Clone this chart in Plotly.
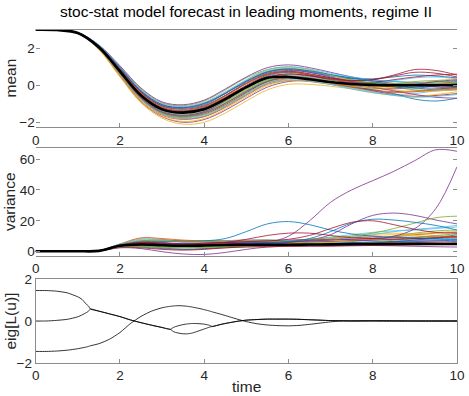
import plotly.graph_objects as go

# time grid used by the ensemble curves
T = [0.0, 0.5, 1.0, 1.5, 2.0, 2.5, 3.0, 3.5, 4.0, 4.5, 5.0,
     5.5, 6.0, 6.5, 7.0, 7.5, 8.0, 8.5, 9.0, 9.5, 10.0]

MEAN_AVG = [3.0, 2.98, 2.82, 2.05, 0.75, -0.55, -1.3, -1.48, -1.3, -0.75, -0.1,
            0.4, 0.45, 0.32, 0.18, 0.07, 0.02, 0.0, 0.0, 0.0, 0.0]

MEAN_MEMBERS = [
    [3.0, 2.98, 2.83, 2.12, 0.92, -0.35, -1.10, -1.25, -1.05, -0.45, 0.25, 0.75, 0.90, 0.75, 0.55, 0.40, 0.30, 0.20, 0.15, 0.18, 0.25],
    [3.0, 2.98, 2.81, 1.98, 0.58, -0.78, -1.55, -1.80, -1.70, -1.20, -0.55, 0.05, 0.25, 0.20, 0.05, -0.10, -0.25, -0.35, -0.30, -0.20, -0.15],
    [3.0, 2.98, 2.82, 2.08, 0.82, -0.45, -1.22, -1.42, -1.20, -0.60, 0.10, 0.62, 0.78, 0.60, 0.35, 0.10, -0.05, -0.05, 0.05, 0.15, 0.10],
    [3.0, 2.98, 2.80, 1.95, 0.50, -0.90, -1.70, -2.00, -1.85, -1.35, -0.70, -0.10, 0.20, 0.25, 0.15, 0.00, -0.15, -0.20, -0.10, 0.05, 0.20],
    [3.0, 2.98, 2.84, 2.15, 1.00, -0.20, -0.95, -1.10, -0.85, -0.25, 0.40, 0.85, 1.00, 0.85, 0.55, 0.30, 0.10, 0.00, -0.05, 0.00, 0.10],
    [3.0, 2.98, 2.82, 2.02, 0.70, -0.62, -1.38, -1.60, -1.45, -0.95, -0.30, 0.25, 0.50, 0.45, 0.30, 0.20, 0.15, 0.25, 0.40, 0.45, 0.35],
    [3.0, 2.98, 2.81, 2.00, 0.65, -0.70, -1.48, -1.70, -1.55, -1.05, -0.40, 0.20, 0.45, 0.40, 0.20, -0.05, -0.30, -0.50, -0.60, -0.55, -0.45],
    [3.0, 2.98, 2.83, 2.10, 0.85, -0.40, -1.18, -1.38, -1.15, -0.55, 0.15, 0.65, 0.80, 0.70, 0.50, 0.35, 0.35, 0.45, 0.55, 0.50, 0.40],
    [3.0, 2.98, 2.82, 2.05, 0.75, -0.55, -1.30, -1.48, -1.30, -0.80, -0.15, 0.35, 0.50, 0.35, 0.10, -0.10, -0.20, -0.15, 0.00, 0.10, 0.05],
    [3.0, 2.98, 2.80, 1.92, 0.45, -0.95, -1.78, -2.10, -2.00, -1.50, -0.85, -0.25, 0.05, 0.05, -0.05, -0.20, -0.40, -0.55, -0.60, -0.50, -0.35],
    [3.0, 2.98, 2.84, 2.18, 1.05, -0.15, -0.90, -1.05, -0.80, -0.20, 0.45, 0.95, 1.10, 0.95, 0.70, 0.45, 0.25, 0.10, 0.00, -0.10, -0.15],
    [3.0, 2.98, 2.82, 2.04, 0.72, -0.58, -1.35, -1.55, -1.40, -0.90, -0.25, 0.30, 0.55, 0.50, 0.40, 0.30, 0.10, -0.10, -0.25, -0.30, -0.25],
    [3.0, 2.98, 2.81, 1.99, 0.62, -0.72, -1.50, -1.72, -1.52, -0.98, -0.30, 0.25, 0.45, 0.30, 0.05, -0.20, -0.40, -0.50, -0.45, -0.30, -0.20],
    [3.0, 2.98, 2.83, 2.11, 0.88, -0.38, -1.12, -1.30, -1.10, -0.55, 0.10, 0.60, 0.72, 0.55, 0.30, 0.15, 0.15, 0.30, 0.45, 0.55, 0.60],
    [3.0, 2.98, 2.82, 2.06, 0.78, -0.50, -1.25, -1.45, -1.25, -0.70, -0.05, 0.50, 0.70, 0.60, 0.40, 0.20, 0.05, -0.10, -0.15, -0.05, 0.10],
    [3.0, 2.98, 2.80, 1.96, 0.55, -0.85, -1.62, -1.85, -1.68, -1.15, -0.50, 0.10, 0.35, 0.30, 0.15, 0.05, 0.00, 0.05, 0.10, 0.05, -0.05],
    [3.0, 2.98, 2.83, 2.13, 0.95, -0.28, -1.02, -1.18, -0.95, -0.40, 0.25, 0.75, 0.92, 0.80, 0.55, 0.25, -0.05, -0.25, -0.35, -0.30, -0.25],
    [3.0, 2.98, 2.82, 2.03, 0.68, -0.65, -1.42, -1.62, -1.42, -0.85, -0.15, 0.40, 0.60, 0.50, 0.30, 0.10, -0.10, -0.30, -0.50, -0.65, -0.70],
    [3.0, 2.98, 2.81, 1.97, 0.60, -0.75, -1.52, -1.75, -1.60, -1.10, -0.45, 0.15, 0.40, 0.38, 0.28, 0.20, 0.15, 0.10, 0.05, 0.10, 0.15],
    [3.0, 2.98, 2.84, 2.16, 0.98, -0.25, -0.98, -1.15, -0.92, -0.35, 0.30, 0.82, 0.98, 0.88, 0.65, 0.45, 0.30, 0.20, 0.15, 0.10, 0.00],
    [3.0, 2.98, 2.82, 2.07, 0.80, -0.48, -1.22, -1.40, -1.20, -0.65, 0.00, 0.55, 0.75, 0.62, 0.40, 0.25, 0.30, 0.50, 0.70, 0.65, 0.45],
    [3.0, 2.98, 2.81, 2.01, 0.66, -0.68, -1.45, -1.65, -1.48, -0.98, -0.35, 0.20, 0.42, 0.35, 0.15, -0.05, -0.25, -0.45, -0.75, -0.85, -0.70],
    [3.0, 2.98, 2.83, 2.09, 0.84, -0.42, -1.18, -1.35, -1.12, -0.58, 0.08, 0.58, 0.72, 0.58, 0.35, 0.15, 0.00, -0.05, 0.00, 0.00, -0.10],
    [3.0, 2.98, 2.80, 1.94, 0.52, -0.88, -1.68, -1.95, -1.80, -1.28, -0.62, -0.02, 0.25, 0.22, 0.10, -0.05, -0.15, -0.10, 0.05, 0.25, 0.35],
    [3.0, 2.98, 2.83, 2.12, 0.90, -0.32, -1.05, -1.20, -0.98, -0.45, 0.20, 0.70, 0.85, 0.70, 0.45, 0.20, 0.05, 0.00, 0.05, 0.20, 0.30],
    [3.0, 2.98, 2.82, 2.04, 0.74, -0.56, -1.32, -1.52, -1.35, -0.85, -0.20, 0.32, 0.48, 0.35, 0.15, 0.00, -0.05, 0.05, 0.20, 0.25, 0.15],
    [3.0, 2.98, 2.81, 1.98, 0.60, -0.76, -1.56, -1.80, -1.65, -1.15, -0.50, 0.08, 0.30, 0.22, 0.05, -0.15, -0.35, -0.55, -0.65, -0.60, -0.50],
    [3.0, 2.98, 2.82, 2.06, 0.77, -0.52, -1.28, -1.46, -1.26, -0.72, -0.08, 0.45, 0.62, 0.52, 0.35, 0.25, 0.30, 0.55, 0.85, 0.80, 0.55],
    [3.0, 2.98, 2.84, 2.14, 0.96, -0.30, -1.05, -1.22, -1.00, -0.42, 0.22, 0.72, 0.88, 0.78, 0.58, 0.38, 0.20, 0.00, -0.15, -0.20, -0.10],
    [3.0, 2.98, 2.81, 2.00, 0.64, -0.70, -1.46, -1.66, -1.50, -0.98, -0.32, 0.22, 0.42, 0.32, 0.12, -0.10, -0.30, -0.40, -0.35, -0.25, -0.20],
]

VAR_AVG = [0.3, 0.3, 0.3, 0.5, 3.8, 4.6, 4.2, 3.8, 4.0, 4.3, 4.5,
           4.5, 4.5, 4.6, 4.7, 4.9, 5.0, 5.0, 5.0, 5.0, 5.0]

VAR_MEMBERS = [
    [0.3, 0.3, 0.3, 0.6, 4.2, 6.5, 6.0, 5.0, 5.5, 6.0, 6.2, 6.0, 5.8, 6.0, 6.5, 7.0, 7.5, 8.0, 8.2, 8.0, 7.5],
    [0.3, 0.3, 0.3, 0.5, 3.0, 3.5, 2.5, 1.5, 1.8, 2.5, 3.2, 3.5, 3.8, 4.0, 4.2, 4.5, 5.0, 5.5, 6.0, 6.2, 6.0],
    [0.3, 0.3, 0.3, 0.7, 4.8, 8.5, 8.0, 6.5, 6.0, 6.5, 7.0, 7.2, 7.0, 7.5, 8.5, 10.0, 11.5, 12.0, 11.5, 10.5, 10.0],
    [0.3, 0.3, 0.3, 0.4, 2.5, 2.0, 0.0, -1.5, -1.8, -0.5, 1.5, 3.0, 3.5, 3.8, 4.0, 4.2, 4.0, 3.8, 3.5, 3.2, 3.0],
    [0.3, 0.3, 0.3, 0.6, 4.0, 5.5, 5.0, 4.5, 5.0, 6.0, 7.0, 7.5, 7.0, 6.5, 6.0, 6.5, 8.0, 10.0, 12.0, 13.5, 14.0],
    [0.3, 0.3, 0.3, 0.5, 3.5, 4.0, 3.0, 2.5, 3.0, 3.5, 4.0, 4.0, 4.2, 4.8, 5.5, 6.0, 6.5, 7.0, 7.5, 8.0, 8.5],
    [0.3, 0.3, 0.3, 0.6, 4.5, 7.0, 7.5, 7.0, 6.5, 6.0, 5.5, 5.5, 6.0, 7.0, 8.0, 9.0, 9.5, 9.0, 8.5, 9.0, 10.0],
    [0.3, 0.3, 0.3, 0.5, 3.2, 3.0, 2.0, 1.5, 2.0, 3.0, 3.5, 3.8, 4.0, 4.0, 4.0, 4.5, 5.5, 6.5, 7.0, 7.0, 6.5],
    [0.3, 0.3, 0.3, 0.7, 5.0, 9.0, 8.5, 7.5, 7.0, 7.0, 6.8, 6.5, 6.5, 7.0, 7.5, 8.0, 8.5, 9.5, 11.0, 12.0, 12.5],
    [0.3, 0.3, 0.3, 0.5, 3.8, 5.0, 4.5, 4.0, 4.2, 4.5, 4.8, 5.0, 5.5, 6.5, 8.0, 9.5, 10.5, 11.0, 10.5, 9.5, 9.0],
    [0.3, 0.3, 0.3, 0.6, 4.2, 6.0, 5.5, 5.0, 5.0, 5.2, 5.5, 5.5, 5.2, 5.0, 5.0, 5.2, 5.5, 6.0, 6.5, 7.0, 7.5],
    [0.3, 0.3, 0.3, 0.5, 3.3, 3.8, 3.5, 3.0, 3.0, 3.2, 3.5, 3.6, 3.8, 4.0, 4.5, 5.0, 5.5, 5.8, 6.0, 5.5, 5.0],
    [0.3, 0.3, 0.3, 0.6, 4.6, 7.5, 7.0, 6.0, 5.5, 5.0, 5.0, 5.5, 6.5, 8.0, 9.5, 11.0, 12.5, 13.5, 14.0, 15.0, 16.0],
    [0.3, 0.3, 0.3, 0.4, 2.8, 2.5, 1.5, 1.0, 1.5, 2.5, 3.0, 3.2, 3.5, 3.5, 3.5, 3.8, 4.0, 4.2, 4.5, 4.8, 5.0],
    [0.3, 0.3, 0.3, 0.5, 3.6, 4.8, 4.2, 3.5, 3.8, 4.5, 5.5, 6.5, 7.0, 7.0, 6.5, 6.0, 6.0, 6.5, 7.5, 9.0, 11.0],
    [0.3, 0.3, 0.3, 0.6, 4.4, 6.2, 6.5, 6.8, 7.0, 7.2, 7.5, 7.5, 7.0, 6.5, 6.5, 7.0, 8.0, 9.0, 9.5, 10.0, 9.5],
    [0.3, 0.3, 0.3, 0.5, 3.4, 4.2, 3.8, 3.2, 3.5, 4.0, 4.5, 4.8, 5.0, 5.5, 6.0, 7.0, 8.5, 10.0, 11.5, 12.5, 13.0],
    [0.3, 0.3, 0.3, 0.6, 4.0, 5.8, 5.5, 5.2, 5.5, 6.0, 6.5, 7.0, 7.5, 8.0, 8.0, 7.5, 7.0, 6.5, 6.0, 5.5, 5.0],
    [0.3, 0.3, 0.3, 0.5, 3.1, 3.2, 2.8, 2.5, 2.8, 3.2, 3.8, 4.2, 4.5, 4.5, 4.5, 5.0, 6.0, 7.5, 9.0, 10.5, 11.5],
    [0.3, 0.3, 0.3, 0.7, 4.9, 8.0, 7.5, 6.5, 6.5, 7.0, 7.5, 7.5, 7.2, 7.0, 7.5, 9.0, 11.0, 13.0, 14.5, 15.5, 17.0],
    # members that wander far from the band
    [0.3, 0.3, 0.3, 0.5, 3.5, 4.5, 4.0, 3.5, 3.8, 4.5, 5.0, 6.0, 10.0, 20.0, 32.0, 40.0, 46.0, 52.0, 59.0, 66.0, 65.0],
    [0.3, 0.3, 0.3, 0.6, 4.0, 5.0, 4.5, 4.0, 4.5, 5.0, 5.5, 6.0, 6.5, 7.0, 7.5, 8.0, 8.5, 10.0, 15.0, 28.0, 55.0],
    [0.3, 0.3, 0.3, 0.6, 4.2, 6.0, 6.5, 6.5, 7.0, 8.5, 13.0, 18.0, 19.5, 17.5, 14.0, 11.5, 10.0, 9.5, 9.0, 8.5, 8.0],
    [0.3, 0.3, 0.3, 0.5, 3.8, 5.0, 4.5, 4.0, 4.5, 5.0, 5.5, 5.5, 6.0, 7.5, 11.0, 18.0, 23.5, 25.0, 23.5, 20.5, 18.0],
    [0.3, 0.3, 0.3, 0.6, 4.5, 7.0, 7.0, 6.5, 6.5, 6.5, 6.5, 6.5, 7.0, 8.0, 9.0, 10.0, 12.0, 15.0, 18.5, 22.0, 23.0],
    [0.3, 0.3, 0.3, 0.5, 3.6, 4.5, 4.0, 3.8, 4.0, 4.5, 5.0, 5.5, 6.5, 8.5, 13.0, 18.5, 21.0, 20.5, 19.0, 17.0, 14.0],
    [0.3, 0.3, 0.3, 0.6, 4.3, 6.0, 5.5, 5.0, 5.5, 6.0, 6.5, 7.0, 8.0, 10.5, 15.0, 19.0, 20.0, 17.5, 14.5, 12.5, 12.0],
    [0.3, 0.3, 0.3, 0.5, 3.9, 5.5, 5.0, 4.5, 5.0, 6.0, 8.0, 10.5, 12.0, 12.0, 10.5, 9.0, 8.5, 8.0, 8.5, 9.0, 9.5],
]

EIG_T = [0.0, 0.25, 0.5, 0.75, 1.0, 1.1, 1.2, 1.25, 1.3, 1.5, 1.75, 2.0, 2.25, 2.5,
         2.75, 3.0, 3.1, 3.2, 3.25, 3.3, 3.4, 3.5, 3.6, 3.7, 3.8, 3.9, 4.0, 4.1,
         4.15, 4.2, 4.4, 4.6, 4.8, 5.0, 5.25, 5.5, 5.75, 6.0, 6.25, 6.5, 6.75,
         7.0, 7.25, 7.5, 8.0, 8.5, 9.0, 9.5, 10.0]

EIG_1 = [1.45, 1.45, 1.42, 1.34, 1.15, 1.03, 0.80, 0.72, 0.57, 0.47, 0.34, 0.21, 0.05, -0.08,
         -0.20, -0.31, -0.36, -0.40, -0.33, -0.28, -0.22, -0.17, -0.14, -0.12, -0.12, -0.13, -0.15, -0.19,
         -0.23, -0.26, -0.16, -0.08, -0.01, 0.04, 0.07, 0.09, 0.09, 0.09, 0.08, 0.06, 0.04,
         0.02, 0.01, 0.0, 0.01, 0.01, 0.0, 0.0, 0.0]

EIG_2 = [0.0, 0.0, 0.03, 0.08, 0.20, 0.29, 0.40, 0.46, 0.57, 0.47, 0.34, 0.21, 0.05, -0.08,
         -0.20, -0.31, -0.36, -0.40, -0.48, -0.53, -0.58, -0.61, -0.61, -0.58, -0.52, -0.45, -0.38, -0.31,
         -0.28, -0.26, -0.16, -0.08, -0.01, 0.04, 0.07, 0.09, 0.09, 0.09, 0.08, 0.06, 0.04,
         0.02, 0.01, 0.0, 0.01, 0.01, 0.0, 0.0, 0.0]

EIG_3 = [-1.45, -1.45, -1.43, -1.39, -1.32, -1.28, -1.24, -1.21, -1.18, -1.08, -0.87, -0.55, -0.12, 0.22,
         0.47, 0.63, 0.67, 0.70, 0.71, 0.72, 0.73, 0.72, 0.70, 0.67, 0.63, 0.59, 0.54, 0.49,
         0.46, 0.43, 0.32, 0.20, 0.08, -0.03, -0.13, -0.19, -0.22, -0.23, -0.21, -0.16, -0.10,
         -0.04, 0.0, 0.01, 0.0, -0.01, 0.0, 0.0, 0.0]

X_TICKS = [0, 2, 4, 6, 8, 10]
PALETTE = ["#0072BD", "#D95319", "#EDB120", "#7E2F8E", "#77AC30", "#4DBEEE", "#A2142F"]
VAR_COLOR_IDX = [i % 7 for i in range(20)] + [3, 3, 0, 3, 4, 0, 6, 6]

W, H = 469, 396
FONT = "Liberation Sans, Arial, Helvetica, sans-serif"
X_DOM = [35.7 / W, 457 / W]


def ydom(top_px, bottom_px):
    return [1 - bottom_px / H, 1 - top_px / H]


fig = go.Figure()

for i, vals in enumerate(MEAN_MEMBERS):
    fig.add_trace(go.Scatter(x=T, y=vals, mode="lines", line=dict(color=PALETTE[i % 7], width=0.8, shape="spline"),
                             xaxis="x", yaxis="y", hoverinfo="skip", showlegend=False))
fig.add_trace(go.Scatter(x=T, y=MEAN_AVG, mode="lines", line=dict(color="black", width=2.6, shape="spline"),
                         xaxis="x", yaxis="y", showlegend=False))

for i, vals in enumerate(VAR_MEMBERS):
    fig.add_trace(go.Scatter(x=T, y=vals, mode="lines",
                             line=dict(color=PALETTE[VAR_COLOR_IDX[i]], width=0.8, shape="spline"),
                             xaxis="x2", yaxis="y2", hoverinfo="skip", showlegend=False))
fig.add_trace(go.Scatter(x=T, y=VAR_AVG, mode="lines", line=dict(color="black", width=2.6, shape="spline"),
                         xaxis="x2", yaxis="y2", showlegend=False))

for vals in (EIG_1, EIG_2, EIG_3):
    fig.add_trace(go.Scatter(x=EIG_T, y=vals, mode="lines", line=dict(color="black", width=0.8, shape="spline", smoothing=0.6),
                             xaxis="x3", yaxis="y3", showlegend=False))

tick_font = dict(family=FONT, size=13.5, color="#262626")
axis_common = dict(showgrid=False, zeroline=False, ticks="inside", ticklen=4, tickcolor="#8c8c8c",
                   tickfont=tick_font, linecolor="#8c8c8c", linewidth=1)


def xaxis(anchor):
    return dict(axis_common, domain=X_DOM, anchor=anchor, range=[0, 10], tickvals=X_TICKS,
                showline=True, mirror=True)


label_font = dict(family=FONT, size=15.5, color="#262626")

fig.update_layout(
    width=W,
    height=H,
    margin=dict(l=0, r=0, t=0, b=0, autoexpand=False),
    paper_bgcolor="white",
    plot_bgcolor="white",
    xaxis=xaxis("y"),
    yaxis=dict(axis_common, domain=ydom(29.7, 127.3), anchor="x", range=[-2.27, 3.0], tickvals=[-2, 0, 2],
               showline=False, mirror="ticks"),
    xaxis2=xaxis("y2"),
    yaxis2=dict(axis_common, domain=ydom(148.3, 256.0), anchor="x2", range=[-2.8, 66.95], tickvals=[0, 20, 40, 60],
                showline=False, mirror="ticks"),
    xaxis3=xaxis("y3"),
    yaxis3=dict(axis_common, domain=ydom(279, 363), anchor="x3", range=[-2, 2], tickvals=[-2, 0, 2],
                showline=True, mirror=True),
    annotations=[
        dict(text="stoc-stat model forecast in leading moments, regime II", x=246.4 / W, y=1 - 12 / H,
             xref="paper", yref="paper", showarrow=False, xanchor="center", yanchor="middle",
             font=dict(family=FONT, size=15.5, color="black")),
        dict(text="mean", x=10 / W, y=1 - 78.5 / H, xref="paper", yref="paper", showarrow=False,
             textangle=-90, xanchor="center", yanchor="middle", font=label_font),
        dict(text="variance", x=10 / W, y=1 - 202 / H, xref="paper", yref="paper", showarrow=False,
             textangle=-90, xanchor="center", yanchor="middle", font=label_font),
        dict(text="eig[L(u)]", x=10 / W, y=1 - 321.5 / H, xref="paper", yref="paper", showarrow=False,
             textangle=-90, xanchor="center", yanchor="middle", font=label_font),
        dict(text="time", x=246.4 / W, y=1 - 386 / H, xref="paper", yref="paper", showarrow=False,
             xanchor="center", yanchor="middle", font=label_font),
    ],
)

# drop the default page margin so the figure sits at the window's corner
fig.write_html("out.html", config={"displayModeBar": False},
               post_script="document.body.style.margin='0';document.body.style.overflow='hidden';")
